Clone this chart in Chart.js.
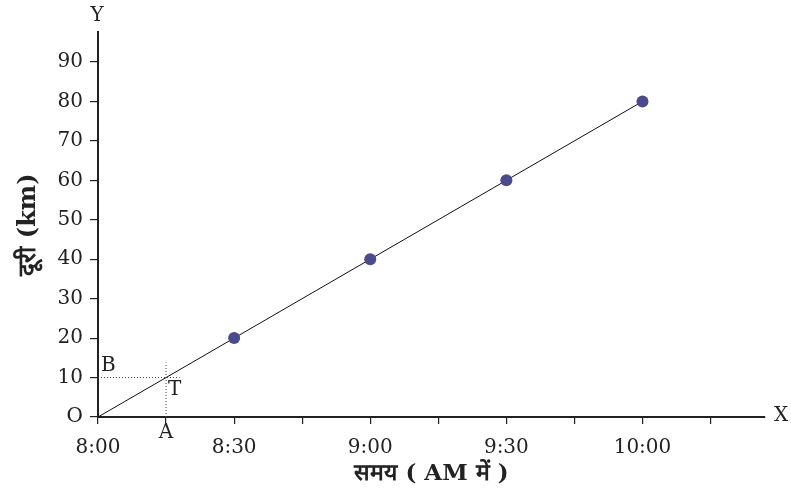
<!DOCTYPE html>
<html>
<head>
<meta charset="utf-8">
<script src="https://cdn.jsdelivr.net/npm/chart.js@4"></script>
<style>
  html, body { margin: 0; padding: 0; background: #fff; }
  #wrap { width: 791px; height: 500px; }
</style>
</head>
<body>
<div id="wrap"><canvas id="chart" width="791" height="500"></canvas></div>
<script>
// Data (minutes after 8:00 AM, distance in km)
const times = [0, 30, 60, 90, 120];
const distances = [0, 20, 40, 60, 80];
const xTickValues = [0, 30, 60, 90, 120];
const xTickLabels = ['8:00', '8:30', '9:00', '9:30', '10:00'];
const xTitle = 'समय ( AM में )';
const yTitle = 'दूरी (km)';
// point T on the line
const markT = { x: 15, y: 10 };

const serif = '"DejaVu Serif", "Liberation Serif", serif';
const ink = '#222';

// Letters and dotted guide lines (A, B, T, X, Y)
const annotate = {
  id: 'annotate',
  afterDraw(chart) {
    const { ctx, scales: { x, y }, chartArea } = chart;
    const px = x.getPixelForValue(markT.x);
    const py = y.getPixelForValue(markT.y);
    ctx.save();
    ctx.strokeStyle = '#444';
    ctx.lineWidth = 1;
    ctx.setLineDash([1, 2]);
    ctx.beginPath();
    ctx.moveTo(chartArea.left, py);
    ctx.lineTo(x.getPixelForValue(18), py);
    ctx.moveTo(px, chartArea.bottom);
    ctx.lineTo(px, y.getPixelForValue(13.8));
    ctx.stroke();
    ctx.setLineDash([]);

    ctx.fillStyle = ink;
    ctx.font = '20px ' + serif;
    ctx.textBaseline = 'middle';
    ctx.textAlign = 'left';
    ctx.fillText('B', chartArea.left + 3, py - 12);
    ctx.fillText('T', px + 2, py + 12);
    ctx.fillText('X', chartArea.right + 9, chartArea.bottom - 1);
    ctx.textAlign = 'center';
    ctx.fillText('A', px, chartArea.bottom + 16);
    ctx.fillText('Y', chartArea.left - 1, chartArea.top - 16);
    ctx.restore();
  }
};

new Chart(document.getElementById('chart'), {
  type: 'scatter',
  data: {
    datasets: [{
      data: times.map((t, i) => ({ x: t, y: distances[i] })),
      showLine: true,
      borderColor: '#111',
      borderWidth: 1,
      backgroundColor: '#4b4a8c',
      pointBackgroundColor: '#4b4a8c',
      pointBorderWidth: 0,
      pointRadius: times.map(t => (t === 0 ? 0 : 6)),
      tension: 0
    }]
  },
  options: {
    responsive: false,
    animation: false,
    layout: { padding: { left: 0, right: 26, top: 32, bottom: 12 } },
    plugins: {
      legend: { display: false },
      tooltip: { enabled: false }
    },
    scales: {
      x: {
        type: 'linear',
        min: 0,
        max: 147,
        afterFit: s => { s.height = 71; },
        afterBuildTicks: s => {
          s.ticks = [0, 15, 30, 45, 60, 75, 90, 105, 120, 135].map(v => ({ value: v }));
        },
        border: { display: true, color: ink, width: 2 },
        grid: { drawOnChartArea: false, color: ink, tickLength: 7, lineWidth: 1.2 },
        ticks: {
          autoSkip: false,
          maxRotation: 0,
          padding: 12,
          color: ink,
          font: { family: serif, size: 20 },
          callback: v => {
            const i = xTickValues.indexOf(v);
            return i >= 0 ? xTickLabels[i] : '';
          }
        },
        title: {
          display: true,
          text: xTitle,
          color: ink,
          font: { family: serif, size: 23, weight: 'bold' },
          padding: { top: 4, bottom: 0 }
        }
      },
      y: {
        min: 0,
        max: 97.6,
        afterFit: s => { s.width = 98; },
        afterBuildTicks: s => {
          s.ticks = [0, 10, 20, 30, 40, 50, 60, 70, 80, 90].map(v => ({ value: v }));
        },
        border: { display: true, color: ink, width: 2 },
        grid: { drawOnChartArea: false, color: ink, tickLength: 8, lineWidth: 1.2 },
        ticks: {
          padding: 7,
          color: ink,
          font: { family: serif, size: 20 },
          callback: v => (v === 0 ? 'O' : String(v))
        },
        title: {
          display: true,
          text: yTitle,
          color: ink,
          font: { family: serif, size: 24, weight: 'bold' },
          padding: { top: 14, bottom: 0 }
        }
      }
    }
  },
  plugins: [annotate]
});
</script>
</body>
</html>
